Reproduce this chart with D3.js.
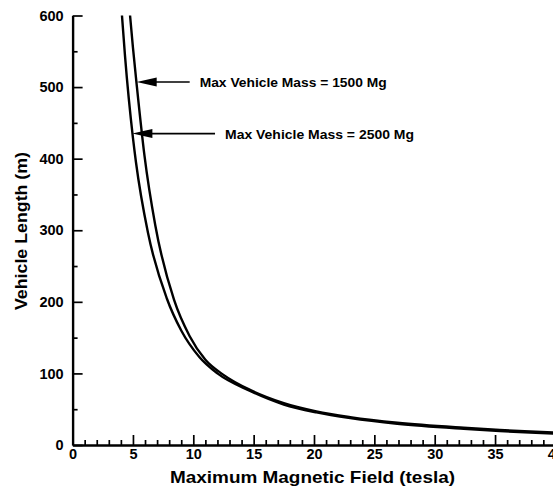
<!DOCTYPE html>
<html>
<head>
<meta charset="utf-8">
<script src="https://cdn.jsdelivr.net/npm/d3@7"></script>
<style>
  body { margin: 0; background: #fff; }
  svg { display: block; }
  text { font-family: "Liberation Sans", Arial, Helvetica, sans-serif; font-weight: bold; fill: #000; }
</style>
</head>
<body>
<svg id="chart" width="553" height="487"></svg>
<script>
// field (tesla) / length (m)
const field1500 = [4.76, 5.0, 5.3, 5.95, 6.85, 8.4, 9.7, 11, 12.5, 14.7, 17.5, 20.2, 23, 26.9, 32.4, 35.4, 37.9, 40];
const length1500 = [600, 555, 505, 405, 307, 203, 152, 119, 98, 77, 58.5, 47, 39, 31, 24, 21, 19, 17.5];
const field2500 = [4.09, 4.34, 5.0, 5.25, 6.25, 7.8, 9.0, 10.5, 12, 14.7, 17.5, 20.2, 23, 26.9, 32.4, 35.4, 37.9, 40];
const length2500 = [600, 544, 429, 395, 296, 205, 160, 123, 100, 75.5, 56.5, 45.5, 37.5, 29.5, 22.5, 19.5, 17.5, 16];

const xTicks = [0, 5, 10, 15, 20, 25, 30, 35, 40];
const yTicks = [0, 100, 200, 300, 400, 500, 600];

const notes = [
  { label: "Max Vehicle Mass = 1500 Mg", x: 5.31, y: 507, end: 9.7, width: 187 },
  { label: "Max Vehicle Mass = 2500 Mg", x: 4.95, y: 435, end: 11.8, width: 189 }
];

const svg = d3.select("#chart");
const x = d3.scaleLinear().domain([0, 40]).range([72.6, 555.4]);
const y = d3.scaleLinear().domain([0, 600]).range([445, 15.5]);

// axes, ticks point inward
const yMinor = d3.range(50, 600, 100);
svg.append("g").attr("transform", "translate(72.6,0)")
  .call(d3.axisLeft(y).tickValues(yMinor).tickSize(-5).tickSizeOuter(0).tickFormat(""))
  .call(g => g.select(".domain").remove());
svg.append("g").attr("transform", "translate(72.6,0)")
  .call(d3.axisLeft(y).tickValues(yTicks).tickSize(-10).tickSizeOuter(0).tickPadding(9));

const xMinor = d3.range(1, 40).filter(v => v % 5 !== 0);
svg.append("g").attr("transform", "translate(0,445)")
  .call(d3.axisBottom(x).tickValues(xMinor).tickSize(-5).tickSizeOuter(0).tickFormat(""))
  .call(g => g.select(".domain").remove());
svg.append("g").attr("transform", "translate(0,445)")
  .call(d3.axisBottom(x).tickValues(xTicks).tickSize(-10).tickSizeOuter(0).tickPadding(4));

svg.selectAll(".tick line").attr("stroke", "#000").attr("stroke-width", 1.7);
svg.selectAll(".domain").attr("stroke", "#000").attr("stroke-width", 2.4);
svg.selectAll(".tick text").style("font-size", "14.5px").attr("fill", "#000");

// curves
const line = d3.line().x(d => x(d[0])).y(d => y(d[1])).curve(d3.curveMonotoneX);
[[field1500, length1500], [field2500, length2500]].forEach(([fx, ly]) => {
  svg.append("path")
    .datum(fx.map((f, i) => [f, ly[i]]))
    .attr("d", line)
    .attr("fill", "none")
    .attr("stroke", "#000")
    .attr("stroke-width", 2.4);
});

// annotations
notes.forEach(n => {
  const tx = x(n.x), ty = y(n.y), ex = x(n.end);
  svg.append("line").attr("x1", tx + 14).attr("y1", ty).attr("x2", ex).attr("y2", ty)
    .attr("stroke", "#000").attr("stroke-width", 1.6);
  svg.append("path")
    .attr("d", `M${tx},${ty}L${tx + 20},${ty - 4.5}L${tx + 20},${ty + 4.5}Z`)
    .attr("fill", "#000");
  svg.append("text").attr("x", ex + 10).attr("y", ty + 5)
    .attr("textLength", n.width).attr("lengthAdjust", "spacingAndGlyphs")
    .style("font-size", "13.5px").text(n.label);
});

// axis titles
svg.append("text").attr("x", 170).attr("y", 483)
  .attr("textLength", 285).attr("lengthAdjust", "spacingAndGlyphs")
  .style("font-size", "17px").text("Maximum Magnetic Field (tesla)");
svg.append("text").attr("transform", "translate(27,310) rotate(-90)")
  .attr("textLength", 158).attr("lengthAdjust", "spacingAndGlyphs")
  .style("font-size", "16px").text("Vehicle Length (m)");
</script>
</body>
</html>
